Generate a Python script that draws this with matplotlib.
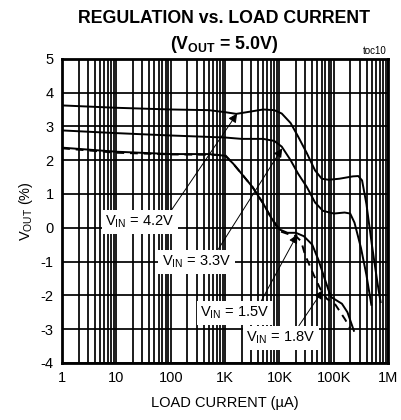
import numpy as np
import matplotlib
matplotlib.use("Agg")
import matplotlib.pyplot as plt
from matplotlib.ticker import LogLocator

plt.rcParams['font.family'] = ['Liberation Sans', 'DejaVu Sans']
plt.rcParams['mathtext.fontset'] = 'custom'
plt.rcParams['mathtext.rm'] = 'Liberation Sans'
plt.rcParams['mathtext.bf'] = 'Liberation Sans:bold'
plt.rcParams['axes.unicode_minus'] = False

# load current (uA) and regulation (%)
i_42 = [1, 10, 100, 500, 1000, 1600, 2500, 5000, 8000, 11000, 16000, 22000,
        32000, 45000, 60000, 80000, 126000, 224000, 282000, 331000, 398000,
        501000, 631000, 724000]
v_42 = [3.62, 3.55, 3.5, 3.48, 3.42, 3.37, 3.42, 3.5, 3.48, 3.38, 3.1, 2.7,
        2.2, 1.7, 1.45, 1.42, 1.45, 1.52, 1.53, 1.4, 0.7, -0.5, -1.6, -2.2]

i_33 = [1, 10, 100, 1000, 2000, 5000, 8000, 11000, 16000, 22000, 32000,
        45000, 63000, 100000, 158000, 200000, 240000, 316000, 398000, 490000]
v_33 = [2.88, 2.8, 2.73, 2.67, 2.63, 2.63, 2.57, 2.4, 2.0, 1.6, 1.2,
        0.75, 0.5, 0.42, 0.45, 0.42, 0.15, -0.6, -1.4, -2.28]

i_15 = [1, 10, 100, 500, 1000, 1400, 2000, 3200, 5000, 7000, 10000, 14000,
        20000, 28000, 40000, 52000, 66000, 80000, 89000, 112000, 141000,
        178000, 234000]
v_15 = [2.37, 2.25, 2.18, 2.18, 2.13, 1.9, 1.6, 1.2, 0.72, 0.3, -0.05, -0.15,
        -0.15, -0.25, -0.5, -0.95, -1.45, -1.85, -2.05, -2.15, -2.25,
        -2.5, -3.05]

i_18 = [1, 10, 100, 500, 1000, 1400, 2000, 3200, 5000, 7000, 10000, 14000,
        20000, 25000, 29500, 35500, 42700, 56000, 74000, 107000, 132000,
        162000, 200000]
v_18 = [2.35, 2.22, 2.17, 2.16, 2.15, 1.9, 1.6, 1.2, 0.72, 0.3, -0.1, -0.18,
        -0.25, -0.4, -0.8, -1.1, -1.4, -1.8, -2.1, -2.28, -2.5,
        -2.72, -2.98]

xticks = [1, 10, 100, 1e3, 1e4, 1e5, 1e6]
xlabels = ['1', '10', '100', '1K', '10K', '100K', '1M']
yticks = list(range(-4, 6))

fig = plt.figure(figsize=(4.01, 4.20), dpi=100)
ax = fig.add_axes([0.155, 0.136, 0.813, 0.724])

ax.set_xscale('log')
ax.set_xlim(1, 1e6)
ax.set_ylim(-4, 5)

ax.grid(True, which='both', axis='x', color='black', lw=1.25)
ax.grid(True, which='major', axis='y', color='black', lw=1.25)
ax.xaxis.set_minor_locator(LogLocator(base=10, subs=np.arange(2, 10)))
ax.set_xticks(xticks)
ax.set_xticklabels(xlabels)
ax.set_yticks(yticks)
ax.set_yticklabels([str(t) for t in yticks])
ax.tick_params(which='both', length=0, labelsize=10.5, pad=6)
ax.set_axisbelow(True)
for s in ax.spines.values():
    s.set_linewidth(2)

ax.plot(i_42, v_42, color='black', lw=1.4)
ax.plot(i_33, v_33, color='black', lw=1.4)
ax.plot(i_15, v_15, color='black', lw=1.4)
ax.plot(i_18, v_18, color='black', lw=1.4, ls=(0, (4, 3)))

box = dict(boxstyle='square,pad=0.25', fc='white', ec='none')

def label(txt, xt, yt, xa, ya, rp):
    ax.annotate(txt, xy=(xa, ya), xytext=(xt, yt), ha='center', va='center',
                fontsize=10.5, bbox=box,
                arrowprops=dict(arrowstyle='-|>', color='black', lw=0.7,
                                mutation_scale=13, shrinkA=0, shrinkB=0,
                                relpos=rp))

label(r'V$_{\mathrm{IN}}$ = 4.2V', 27, 0.17, 1660, 3.38, (0.92, 1.0))
label(r'V$_{\mathrm{IN}}$ = 3.3V', 295, -1.0, 11200, 2.35, (0.78, 1.0))
label(r'V$_{\mathrm{IN}}$ = 1.5V', 1520, -2.52, 21300, -0.2, (0.85, 1.0))
label(r'V$_{\mathrm{IN}}$ = 1.8V', 10700, -3.26, 63000, -1.85, (0.72, 1.0))

fig.text(0.56, 0.956, 'REGULATION vs. LOAD CURRENT', ha='center', va='center',
         fontsize=12.8, fontweight='bold')
fig.text(0.56, 0.893, r'(V$_{\mathbf{OUT}}$ = 5.0V)', ha='center', va='center',
         fontsize=12.8, fontweight='bold')
fig.text(0.965, 0.866, 'toc10', ha='right', va='bottom', fontsize=7)

ax.set_xlabel('LOAD CURRENT (\u00b5A)', fontsize=10.5, labelpad=8)
ax.set_ylabel(r'V$_{\mathrm{OUT}}$ (%)', fontsize=10.5, labelpad=4)

fig.savefig('out.png', dpi=100)
